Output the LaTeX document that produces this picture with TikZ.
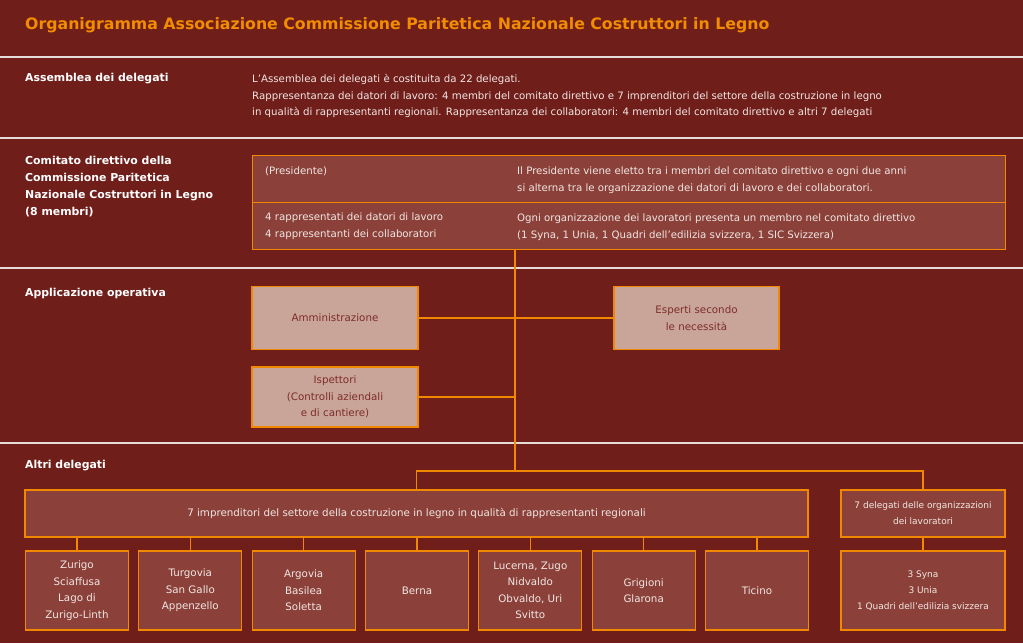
\documentclass[tikz,border=0pt]{standalone}
\usepackage{fontspec}
\setmainfont{DejaVu Sans}
\usetikzlibrary{positioning}

\definecolor{bgred}{RGB}{112,30,26}
\definecolor{boxred}{RGB}{139,65,57}
\definecolor{boxpink}{RGB}{201,164,153}
\definecolor{orangeline}{RGB}{242,135,0}
\definecolor{titleorange}{RGB}{242,140,0}
\definecolor{sepgray}{RGB}{230,220,218}
\definecolor{textlight}{RGB}{240,230,228}
\definecolor{textdark}{RGB}{125,45,40}

\tikzset{
	bodytext/.style={text=textlight, font=\fontsize{10.2}{16.8}\selectfont, inner sep=0pt, align=left},
	headlabel/.style={text=white, font=\fontsize{10.9}{17}\selectfont\bfseries, inner sep=0pt, align=left},
	redbox/.style={draw=orangeline, fill=boxred, line width=1.2pt, text=textlight, font=\fontsize{10.3}{16.5}\selectfont, align=center, inner sep=0pt},
	pinkbox/.style={draw=orangeline, fill=boxpink, line width=1.2pt, text=textdark, font=\fontsize{10.3}{16.5}\selectfont, align=center, inner sep=0pt},
	sepline/.style={sepgray, line width=1.3pt},
	link/.style={orangeline, line width=1.3pt},
}

\begin{document}
\begin{tikzpicture}[x=1pt, y=-1pt]
	\fill[bgred] (0,0) rectangle (1023,643);
	\useasboundingbox (0,0) rectangle (1023,643);
	
	%section separators
	\foreach \y in {57, 138, 268, 443}{
		\draw[sepline] (0,\y) -- (1023,\y);
	}
	
	\node[anchor=west, inner sep=0pt, text=titleorange, font=\fontsize{15.75}{20}\selectfont\bfseries] (title) at (25,25){Organigramma Associazione Commissione Paritetica Nazionale Costruttori in Legno};
	
	%assemblea
	\node[headlabel, anchor=west] (asslab) at (25,79){Assemblea dei delegati};
	\node[bodytext, anchor=north west] (asstext) at (252,74){L'Assemblea dei delegati è costituita da 22 delegati.\\Rappresentanza dei datori di lavoro: 4 membri del comitato direttivo e 7 imprenditori del settore della costruzione in legno\\in qualità di rappresentanti regionali. Rappresentanza dei collaboratori: 4 membri del comitato direttivo e altri 7 delegati};
	
	%comitato direttivo
	\node[headlabel, anchor=north west] (cdlab) at (25,156){Comitato direttivo della\\Commissione Paritetica\\Nazionale Costruttori in Legno\\(8 membri)};
	\node[redbox, minimum width=753, minimum height=47, anchor=north west] (cdpres) at (252,155){};
	\node[redbox, minimum width=753, minimum height=47, anchor=north west] (cdmemb) at (252,202){};
	\node[bodytext, anchor=north west] (prestxt) at (265,167){(Presidente)};
	\node[bodytext, anchor=north west] (presinfo) at (517,167){Il Presidente viene eletto tra i membri del comitato direttivo e ogni due anni\\si alterna tra le organizzazione dei datori di lavoro e dei collaboratori.};
	\node[bodytext, anchor=north west] (membtxt) at (265,213){4 rappresentati dei datori di lavoro\\4 rappresentanti dei collaboratori};
	\node[bodytext, anchor=north west] (membinfo) at (517,214){Ogni organizzazione dei lavoratori presenta un membro nel comitato direttivo\\(1 Syna, 1 Unia, 1 Quadri dell'edilizia svizzera, 1 SIC Svizzera)};
	
	%applicazione operativa
	\node[headlabel, anchor=west] (applab) at (25,293){Applicazione operativa};
	\node[pinkbox, minimum width=166, minimum height=63] (amm) at (335,318){Amministrazione};
	\node[pinkbox, minimum width=165, minimum height=63] (esp) at (696.5,318){Esperti secondo\\le necessità};
	\node[pinkbox, minimum width=166, minimum height=60] (isp) at (335,397){Ispettori\\(Controlli aziendali\\e di cantiere)};
	
	%altri delegati
	\node[headlabel, anchor=west] (altrilab) at (25,466){Altri delegati};
	\node[redbox, minimum width=783, minimum height=47] (impr) at (416.5,513.5){7 imprenditori del settore della costruzione in legno in qualità di rappresentanti regionali};
	\node[redbox, minimum width=164, minimum height=47, font=\fontsize{9}{16}\selectfont] (lav) at (923,513.5){7 delegati delle organizzazioni\\dei lavoratori};
	\node[redbox, minimum width=164, minimum height=79, font=\fontsize{9}{16}\selectfont] (org) at (923,590.5){3 Syna\\3 Unia\\1 Quadri dell'edilizia svizzera};
	
	%links
	\coordinate (bar) at (515,471);
	\draw[link] (cdmemb.south -| bar) -- (bar);
	\draw[link] (amm) -- (esp);
	\draw[link] (isp) -- (isp -| bar);
	\draw[link] (impr.north) |- (bar) -| (lav.north);
	\draw[link] (lav) -- (org);
	
	\foreach \name/\txt [count=\i] in {zur/{Zurigo\\Sciaffusa\\Lago di\\Zurigo-Linth}, tur/{Turgovia\\San Gallo\\Appenzello}, arg/{Argovia\\Basilea\\Soletta}, ber/{Berna}, luc/{Lucerna, Zugo\\Nidvaldo\\Obvaldo, Uri\\Svitto}, gri/{Grigioni\\Glarona}, tic/{Ticino}}{
		\node[redbox, minimum width=103, minimum height=79] (\name) at ({77+(\i-1)*113.33},590.5){\txt};
		\draw[link] (\name.north) -- (\name.north |- impr.south);
	}
\end{tikzpicture}
\end{document}
